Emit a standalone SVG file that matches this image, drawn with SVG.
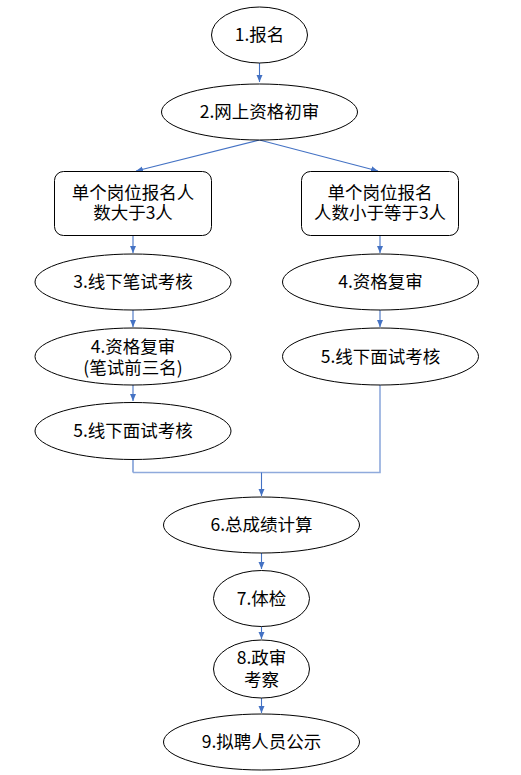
<svg xmlns="http://www.w3.org/2000/svg" width="521" height="775" viewBox="0 0 521 775">
<style>
.n{fill:#fff;stroke:#000;stroke-width:1}
.t{font-family:"Noto Sans CJK SC","Liberation Sans",sans-serif;font-size:17.5px;fill:#000;text-anchor:middle}
.c{fill:none;stroke:#4472C4;stroke-width:1.1}
.m{fill:none;stroke:#8FAADC;stroke-width:1.6}
</style>
<defs>
<marker id="ah" markerWidth="8" markerHeight="8" refX="7" refY="4" orient="auto" markerUnits="userSpaceOnUse">
<path d="M0,1 L7,4 L0,7 Z" fill="#4472C4"/>
</marker>
</defs>
<rect width="521" height="775" fill="#fff"/>
<g id="connectors">
<line class="c" x1="259.5" y1="63" x2="259.5" y2="82" marker-end="url(#ah)"/>
<line class="c" x1="259.5" y1="140" x2="136" y2="171" marker-end="url(#ah)"/>
<line class="c" x1="259.5" y1="140" x2="378" y2="171" marker-end="url(#ah)"/>
<line class="c" x1="133" y1="236" x2="133" y2="253" marker-end="url(#ah)"/>
<line class="c" x1="380" y1="236" x2="380" y2="253" marker-end="url(#ah)"/>
<line class="c" x1="133" y1="310" x2="133" y2="327" marker-end="url(#ah)"/>
<line class="c" x1="380" y1="310" x2="380" y2="327" marker-end="url(#ah)"/>
<line class="c" x1="133" y1="385" x2="133" y2="401" marker-end="url(#ah)"/>
<path class="c" d="M133,459 V472.5"/>
<path class="m" d="M380,385 V472.5 H133"/>
<line class="c" x1="261.5" y1="472.5" x2="261.5" y2="496" marker-end="url(#ah)"/>
<line class="c" x1="261.5" y1="553" x2="261.5" y2="569" marker-end="url(#ah)"/>
<line class="c" x1="261.5" y1="627" x2="261.5" y2="639" marker-end="url(#ah)"/>
<line class="c" x1="261.5" y1="698" x2="261.5" y2="713" marker-end="url(#ah)"/>
</g>
<g id="n1"><ellipse class="n" cx="259.5" cy="35" rx="48" ry="28"/><text class="t" x="259.5" y="41">1.报名</text></g>
<g id="n2"><ellipse class="n" cx="259.5" cy="112" rx="98" ry="28"/><text class="t" x="259.5" y="118">2.网上资格初审</text></g>
<g id="b1"><rect class="n" x="54.5" y="171.5" width="157" height="64" rx="9"/><text class="t" x="133" y="199">单个岗位报名人</text><text class="t" x="133" y="219">数大于3人</text></g>
<g id="b2"><rect class="n" x="301.5" y="171.5" width="157" height="64" rx="9"/><text class="t" x="380" y="199">单个岗位报名</text><text class="t" x="380" y="219">人数小于等于3人</text></g>
<g id="n3"><ellipse class="n" cx="133" cy="282" rx="98" ry="28"/><text class="t" x="133" y="288">3.线下笔试考核</text></g>
<g id="n4r"><ellipse class="n" cx="380.5" cy="282" rx="98" ry="28"/><text class="t" x="380.5" y="288">4.资格复审</text></g>
<g id="n4l"><ellipse class="n" cx="133" cy="356.5" rx="98" ry="28.5"/><text class="t" x="133" y="352.5">4.资格复审</text><text class="t" x="133" y="374">(笔试前三名)</text></g>
<g id="n5r"><ellipse class="n" cx="380.5" cy="356.5" rx="98" ry="28.5"/><text class="t" x="380.5" y="362.5">5.线下面试考核</text></g>
<g id="n5l"><ellipse class="n" cx="133" cy="431" rx="98" ry="28.5"/><text class="t" x="133" y="437">5.线下面试考核</text></g>
<g id="n6"><ellipse class="n" cx="261.5" cy="525" rx="98" ry="28"/><text class="t" x="261.5" y="531">6.总成绩计算</text></g>
<g id="n7"><ellipse class="n" cx="261.5" cy="598.5" rx="48" ry="28"/><text class="t" x="261.5" y="604.5">7.体检</text></g>
<g id="n8"><ellipse class="n" cx="261.5" cy="669" rx="48" ry="29"/><text class="t" x="261.5" y="664">8.政审</text><text class="t" x="261.5" y="686">考察</text></g>
<g id="n9"><ellipse class="n" cx="261.5" cy="742" rx="98" ry="28"/><text class="t" x="261.5" y="748">9.拟聘人员公示</text></g>
</svg>
